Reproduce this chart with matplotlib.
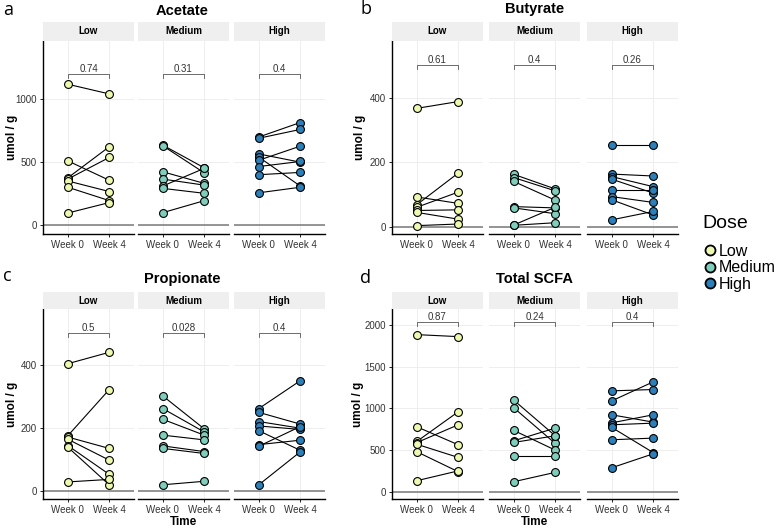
import matplotlib
matplotlib.use("Agg")
import matplotlib.pyplot as plt
from matplotlib.lines import Line2D

plt.rcParams['font.family'] = ['Liberation Sans', 'DejaVu Sans']

W, H = 780, 529

doses = ["Low", "Medium", "High"]
weeks = ["Week 0", "Week 4"]
dose_colors = ["#edf8b1", "#7fcdbb", "#2c7fb8"]

# values, one list per dose group (paired subjects)
acetate_w0 = [[1120, 510, 375, 365, 350, 300, 95],
              [635, 630, 423, 365, 310, 291, 98],
              [700, 690, 565, 540, 515, 465, 400, 256]]
acetate_w4 = [[1043, 356, 622, 537, 266, 194, 178],
              [455, 415, 331, 317, 450, 252, 193],
              [815, 760, 500, 310, 627, 505, 418, 300]]
acetate_p = ["0.74", "0.31", "0.4"]

butyrate_w0 = [[367, 92, 68, 60, 50, 44, 3],
               [162, 152, 140, 62, 58, 5, 4],
               [252, 163, 155, 147, 114, 93, 83, 21]]
butyrate_w4 = [[388, 72, 166, 107, 52, 23, 8],
               [117, 111, 82, 58, 40, 60, 12],
               [252, 157, 124, 104, 114, 75, 36, 47]]
butyrate_p = ["0.61", "0.4", "0.26"]

propionate_w0 = [[404, 176, 172, 165, 145, 140, 30],
                 [302, 262, 228, 178, 144, 136, 21],
                 [262, 250, 221, 207, 192, 148, 143, 21]]
propionate_w4 = [[440, 322, 136, 99, 54, 21, 38],
                 [198, 188, 178, 163, 126, 120, 32],
                 [350, 213, 200, 196, 130, 162, 205, 125]]
propionate_p = ["0.5", "0.028", "0.4"]

total_w0 = [[1888, 780, 604, 590, 570, 480, 132],
            [1100, 1008, 736, 612, 592, 428, 120],
            [1212, 1092, 924, 828, 804, 772, 624, 288]]
total_w4 = [[1864, 564, 960, 804, 412, 240, 250],
            [672, 580, 500, 764, 672, 428, 232],
            [1228, 1320, 836, 924, 824, 470, 644, 455]]
total_p = ["0.87", "0.24", "0.4"]


def px(x0, y0, w, h):
    return [x0 / W, 1 - (y0 + h) / H, w / W, h / H]


fig = plt.figure(figsize=(W / 100, H / 100), dpi=100)


def panel(letter, title, w0, w4, pvals, yticks, ylim, bracket_y, xs, top, bottom,
          strip_h, show_time, letter_xy, title_xy, ylab_x):
    fw = 91
    tick_len = (ylim[1] - ylim[0]) / (bottom - top) * 4
    for i in range(3):
        ax = fig.add_axes(px(xs[i], top, fw, bottom - top))
        ax.set_xlim(0.4, 2.6)
        ax.set_ylim(*ylim)
        for y in yticks:
            ax.axhline(y, color="#ebebeb", lw=0.6, zorder=0)
        for x in (1, 2):
            ax.axvline(x, color="#ebebeb", lw=0.6, zorder=0)
        ax.axhline(0, color="#8c8c8c", lw=1.3, zorder=1)
        for a, b in zip(w0[i], w4[i]):
            ax.plot([1, 2], [a, b], color="black", lw=0.8, zorder=2)
        ax.scatter([1] * len(w0[i]), w0[i], s=32, color=dose_colors[i],
                   edgecolor="black", linewidth=0.8, zorder=3)
        ax.scatter([2] * len(w4[i]), w4[i], s=32, color=dose_colors[i],
                   edgecolor="black", linewidth=0.8, zorder=3)
        # comparison bracket
        ax.plot([1, 1, 2, 2], [bracket_y - tick_len, bracket_y, bracket_y, bracket_y - tick_len],
                color="#555555", lw=0.6)
        ax.text(1.5, bracket_y, pvals[i], ha="center", va="bottom", fontsize=7, color="#333333")
        for s in ("top", "right"):
            ax.spines[s].set_visible(False)
        ax.spines["bottom"].set_linewidth(1.0)
        ax.set_xticks([1, 2])
        ax.set_xticklabels(weeks, fontsize=7, color="#333333")
        ax.tick_params(axis="x", length=2, width=0.6, pad=2)
        if i == 0:
            ax.set_yticks(yticks)
            ax.set_yticklabels([str(t) for t in yticks], fontsize=7, color="#333333")
            ax.tick_params(axis="y", length=2.5, width=0.6, pad=2)
            ax.spines["left"].set_linewidth(1.0)
        else:
            ax.spines["left"].set_visible(False)
            ax.set_yticks([])
        # facet strip
        sax = fig.add_axes(px(xs[i], top - strip_h, fw, strip_h))
        sax.set_facecolor("#efefef")
        sax.set_xticks([])
        sax.set_yticks([])
        for s in sax.spines.values():
            s.set_visible(False)
        sax.text(0.5, 0.5, doses[i], ha="center", va="center", fontsize=7,
                 fontweight="bold", transform=sax.transAxes)
    if show_time:
        fig.text((xs[1] + fw / 2) / W, 1 - 522 / H, "Time", ha="center", va="center",
                 fontsize=8.5, fontweight="bold")
    fig.text(ylab_x / W, 1 - ((top + bottom) / 2) / H, "umol / g", rotation=90,
             ha="center", va="center", fontsize=8.5, fontweight="bold")
    fig.text(title_xy[0] / W, 1 - title_xy[1] / H, title, ha="center", va="center",
             fontsize=10.5, fontweight="bold")
    fig.text(letter_xy[0] / W, 1 - letter_xy[1] / H, letter, ha="left", va="center",
             fontsize=13, family=["Open Sans", "DejaVu Sans"])


panel("a", "Acetate", acetate_w0, acetate_w4, acetate_p, [0, 500, 1000],
      (-72, 1464), 1200, [43, 138, 234], 41, 234, 19, False, (3, 10), (182, 11), 12)
panel("b", "Butyrate", butyrate_w0, butyrate_w4, butyrate_p, [0, 200, 400],
      (-23, 576), 502, [392, 489, 587], 41, 234, 19, False, (361, 9), (535, 9), 360)
panel("c", "Propionate", propionate_w0, propionate_w4, propionate_p, [0, 200, 400],
      (-24, 577), 500, [43, 138, 234], 309, 499, 17, True, (3, 276), (182, 279), 12)
panel("d", "Total SCFA", total_w0, total_w4, total_p, [0, 500, 1000, 1500, 2000],
      (-88, 2196), 2045, [392, 489, 587], 309, 499, 17, True, (360, 278), (535, 279), 358)

# legend
fig.text(702 / W, 1 - 224 / H, "Dose", ha="left", va="center", fontsize=14)
handles = [Line2D([], [], marker="o", ls="none", markersize=7.2, markerfacecolor=c,
                  markeredgecolor="black", markeredgewidth=1.3) for c in dose_colors]
fig.legend(handles, doses, loc="upper left", bbox_to_anchor=(704 / W, 1 - 244 / H),
           frameon=False, fontsize=11.5, handlelength=0.7, handletextpad=0.25,
           labelspacing=0.08, borderpad=0.0, borderaxespad=0.0)

fig.savefig("out.png", dpi=100)
